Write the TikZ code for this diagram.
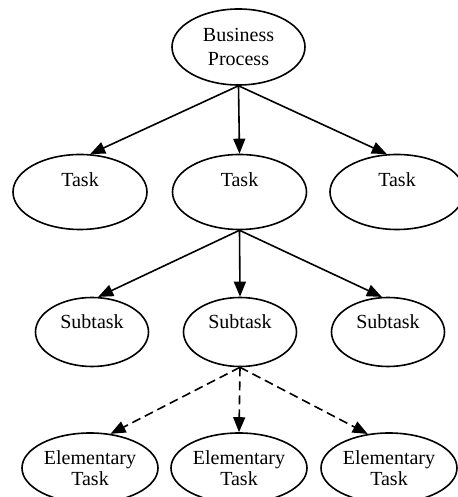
\documentclass[tikz,border=0pt]{standalone}
\usepackage{fontspec}
\setmainfont{Liberation Serif}
\usetikzlibrary{shapes.geometric,arrows.meta}
\begin{document}
\begin{tikzpicture}[x=1pt,y=1pt,
  every node/.style={font=\fontsize{20}{22}\selectfont},
  oval/.style={draw, ellipse, line width=1.6pt, inner sep=0pt, align=center},
  toprow/.style={oval, minimum width=133pt, minimum height=76pt, font=\fontsize{20}{24}\selectfont},
  taskrow/.style={oval, minimum width=134pt, minimum height=75pt, text height=0pt, text depth=11pt},
  subrow/.style={oval, minimum width=113pt, minimum height=69pt, text height=0pt, text depth=7pt},
  elemrow/.style={oval, minimum width=136pt, minimum height=70pt, font=\fontsize{20}{21}\selectfont},
  link/.style={line width=1.6pt, -{Triangle[length=15pt,width=12pt]}},
  dlink/.style={link, dash pattern=on 9pt off 5pt}]
\useasboundingbox (0,0) rectangle (457,497);
\node[toprow] (bp) at (238.5,450) {Business\\Process};
\node[taskrow] (t1) at (80,305) {Task};
\node[taskrow] (t2) at (239.5,305) {Task};
\node[taskrow] (t3) at (397,305) {Task};
\node[subrow] (s1) at (92,165) {Subtask};
\node[subrow] (s2) at (240,165) {Subtask};
\node[subrow] (s3) at (388,165) {Subtask};
\node[elemrow] (e1) at (90,29) {Elementary\\Task};
\node[elemrow] (e2) at (239,29) {Elementary\\Task};
\node[elemrow] (e3) at (389,29) {Elementary\\Task};
\draw[link] (bp.south) -- (t1.75);
\draw[link] (bp.south) -- (t2.north);
\draw[link] (bp.south) -- (t3.105);
\draw[link] (t2.south) -- (s1.80);
\draw[link] (t2.south) -- (s2.north);
\draw[link] (t2.south) -- (s3.100);
\draw[dlink] (s2.south) -- (e1.59);
\draw[dlink] (s2.south) -- (e2.north);
\draw[dlink] (s2.south) -- (e3.122);
\end{tikzpicture}
\end{document}
